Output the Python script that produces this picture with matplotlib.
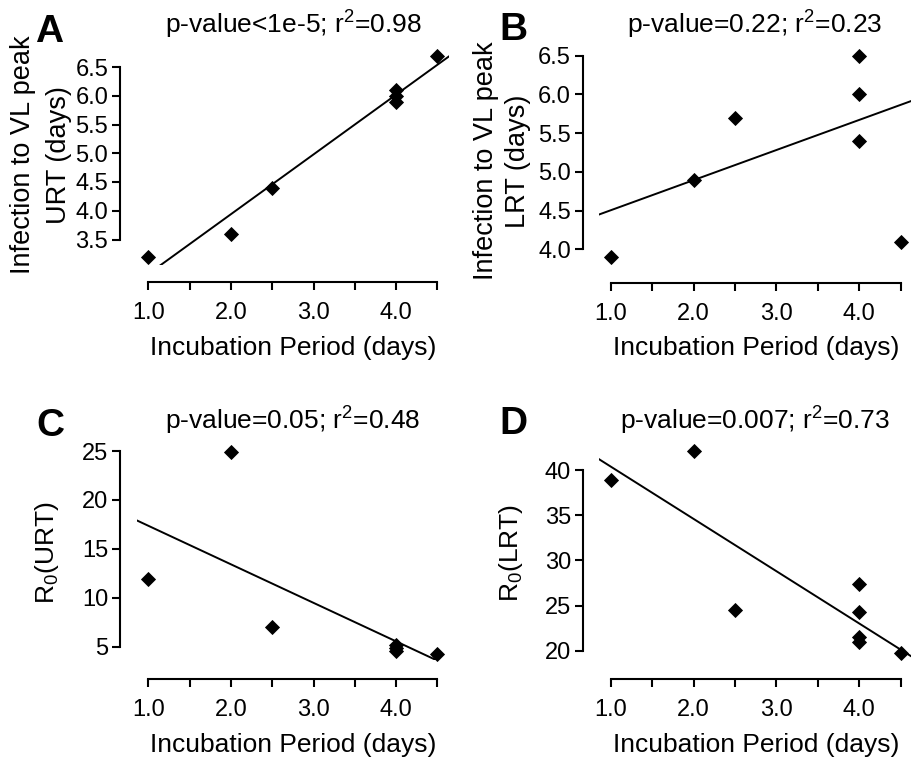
import numpy as np
import matplotlib
matplotlib.use("Agg")
import matplotlib.pyplot as plt

plt.rcParams['font.family'] = ['Liberation Sans', 'DejaVu Sans']
plt.rcParams['mathtext.fontset'] = 'custom'
plt.rcParams['mathtext.rm'] = 'Liberation Sans'
plt.rcParams['mathtext.it'] = 'Liberation Sans:italic'
plt.rcParams['mathtext.bf'] = 'Liberation Sans:bold'

# dados
inc = [1, 2, 2.5, 4, 4, 4, 4.5]
inc_d = [1, 2, 2.5, 4, 4, 4, 4, 4.5]
urt_peak = [3.2, 3.6, 4.4, 6.1, 6.0, 5.9, 6.7]
lrt_peak = [3.9, 4.9, 5.7, 6.5, 6.0, 5.4, 4.1]
r0_urt = [11.9, 24.9, 7.0, 5.2, 4.9, 4.6, 4.3]
r0_lrt = [38.9, 42.1, 24.5, 27.35, 24.25, 21.5, 21.0, 19.7]

# reta ajustada (inclinacao, intercepto)
fit_slope = [1.04, 0.389, -3.94, -5.79]
fit_icpt = [1.86, 4.115, 21.3, 46.17]

letters = ['A', 'B', 'C', 'D']
titles = ['p-value<1e-5; r$^2$=0.98', 'p-value=0.22; r$^2$=0.23',
          'p-value=0.05; r$^2$=0.48', 'p-value=0.007; r$^2$=0.73']
ylabels = ['Infection to VL peak\nURT (days)', 'Infection to VL peak\nLRT (days)',
           'R$_0$(URT)', 'R$_0$(LRT)']
ylab_size = [19.5, 19.5, 19, 19]
xlabel = 'Incubation Period (days)'
xticks = [1.0, 1.5, 2.0, 2.5, 3.0, 3.5, 4.0, 4.5]
xticklabels = ['1.0', '', '2.0', '', '3.0', '', '4.0', '']
yticks = [[3.5, 4.0, 4.5, 5.0, 5.5, 6.0, 6.5],
          [4.0, 4.5, 5.0, 5.5, 6.0, 6.5],
          [5, 10, 15, 20, 25],
          [20, 25, 30, 35, 40]]
yfmt = ['%.1f', '%.1f', '%d', '%d']

W, H = 912, 763
fig = plt.figure(figsize=(W / 100, H / 100), dpi=100)

# layout em pixels: x de 1.0 e 4.5, y dos ticks extremos, limites, spines
lay = [
    dict(x1=148.3, x45=437.5, yt=67.0, yb=239.5, ylim=(3.05, 6.75), ysp=120, xsp=282),
    dict(x1=610.7, x45=900.7, yt=55.7, yb=249.3, ylim=(3.85, 6.6), ysp=582.7, xsp=282.7),
    dict(x1=148.3, x45=437.5, yt=451.0, yb=646.7, ylim=(3.64, 26), ysp=120, xsp=679),
    dict(x1=610.7, x45=900.7, yt=470.0, yb=650.7, ylim=(19.0, 43), ysp=582.7, xsp=679),
]
xlim = (0.86, 4.64)
xs_data = [inc, inc, inc, inc_d]
ys_data = [urt_peak, lrt_peak, r0_urt, r0_lrt]

title_pos = [(293, 33.3), (755, 33.3), (293, 430), (755.5, 430)]
letter_pos = [(35, 41.5), (499, 40), (36, 436), (499, 434)]
xlab_pos = [(293.3, 355), (756, 355), (293.3, 751.7), (756, 751.7)]
# cada linha do ylabel separada (x de cada linha, y do centro)
ylab_x = [[23.5, 58.5], [486, 518], [46.7], [511]]
ylab_y = [155, 161, 553, 552.5]


def fx(p):
    return p / W


def fy(p):
    return 1 - p / H


for i in range(4):
    L = lay[i]
    yt_v, yb_v = yticks[i][-1], yticks[i][0]
    sx = (L['x45'] - L['x1']) / 3.5
    sy = (L['yb'] - L['yt']) / (yt_v - yb_v)
    left = L['x1'] + (xlim[0] - 1) * sx
    right = L['x1'] + (xlim[1] - 1) * sx
    top = L['yt'] - (L['ylim'][1] - yt_v) * sy
    bottom = L['yb'] + (yb_v - L['ylim'][0]) * sy
    ax = fig.add_axes([left / W, 1 - bottom / H, (right - left) / W, (bottom - top) / H])
    ax.set_xlim(xlim)
    ax.set_ylim(L['ylim'])

    xx = np.array(xlim)
    ax.plot(xx, fit_icpt[i] + fit_slope[i] * xx, color='black', lw=1.4, zorder=2)
    ax.plot(xs_data[i], ys_data[i], linestyle='none', marker='D', ms=7.2,
            color='black', mec='black', mew=0.6, clip_on=False, zorder=3)

    for s in ['top', 'right']:
        ax.spines[s].set_visible(False)
    ax.spines['left'].set_position(('outward', (left - L['ysp']) * 0.72))
    ax.spines['bottom'].set_position(('outward', (L['xsp'] - bottom) * 0.72))
    ax.spines['left'].set_bounds(yb_v, yt_v)
    ax.spines['bottom'].set_bounds(1.0, 4.5)
    for s in ['left', 'bottom']:
        ax.spines[s].set_linewidth(1.5)

    ax.set_xticks(xticks)
    ax.set_xticklabels(xticklabels)
    ax.set_yticks(yticks[i])
    ax.set_yticklabels([yfmt[i] % v for v in yticks[i]])
    ax.tick_params(axis='both', length=5.5, width=1.5, labelsize=17, color='black')
    ax.tick_params(axis='x', pad=9)
    ax.tick_params(axis='y', pad=3)
    ax.patch.set_alpha(0)

    fig.text(fx(title_pos[i][0]), fy(title_pos[i][1]), titles[i], fontsize=19,
             ha='center', va='baseline')
    fig.text(fx(letter_pos[i][0]), fy(letter_pos[i][1]), letters[i], fontsize=28,
             fontweight='bold', ha='left', va='baseline')
    fig.text(fx(xlab_pos[i][0]), fy(xlab_pos[i][1]), xlabel, fontsize=19,
             ha='center', va='baseline')
    for k, linha in enumerate(ylabels[i].split('\n')):
        fig.text(fx(ylab_x[i][k]), fy(ylab_y[i]), linha, fontsize=ylab_size[i],
                 rotation=90, ha='center', va='center')

fig.savefig('out.png', dpi=100)
